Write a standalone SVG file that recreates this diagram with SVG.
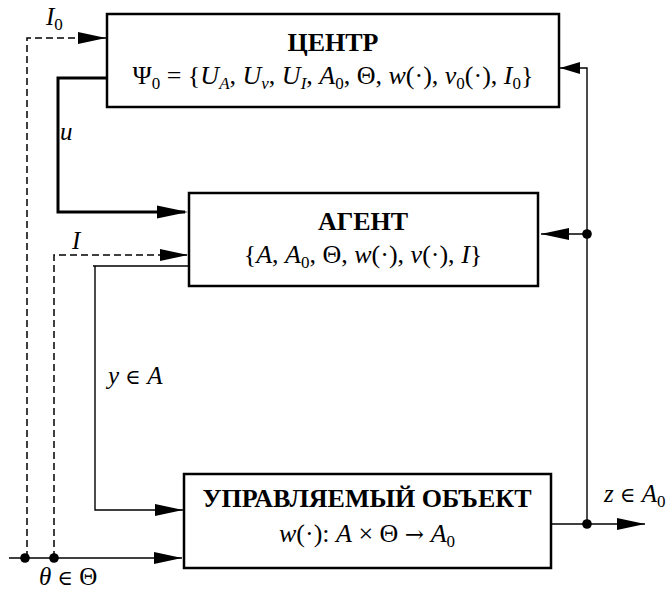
<svg xmlns="http://www.w3.org/2000/svg" width="669" height="591" viewBox="0 0 669 591">
<style>
text{font-family:"Liberation Serif","Times New Roman","DejaVu Serif",serif;fill:#000;font-size:26px}
.b{font-weight:bold}
.i{font-style:italic}
.sub{font-size:17px}
.lbl{font-size:25px}
.sym{font-family:"DejaVu Serif",serif;font-size:21px;font-style:normal}
.box{fill:#fff;stroke:#000;stroke-width:2.5}
.thin{fill:none;stroke:#000;stroke-width:1.4}
.dash{fill:none;stroke:#000;stroke-width:1.5;stroke-dasharray:7 4}
.thick{fill:none;stroke:#000;stroke-width:3}
.dot{fill:#000}
</style>
<defs>
<marker id="arr" markerUnits="userSpaceOnUse" markerWidth="28" markerHeight="12" refX="28" refY="6" orient="auto" overflow="visible"><path d="M0,0 L28,6 L0,12 z" fill="#000"/></marker>
<marker id="arrT" markerUnits="userSpaceOnUse" markerWidth="31" markerHeight="13" refX="28" refY="6.5" orient="auto" overflow="visible"><path d="M0,0 L31,6.5 L0,13 z" fill="#000"/></marker>
<marker id="arrS" markerUnits="userSpaceOnUse" markerWidth="20" markerHeight="12" refX="20" refY="6" orient="auto" overflow="visible"><path d="M0,0 L20,6 L0,12 z" fill="#000"/></marker>
</defs>
<rect width="669" height="591" fill="#fff"/>
<g id="connectors">
<path class="dash" d="M27,558 V38 H106" marker-end="url(#arr)"/>
<path class="dash" d="M54,558 V255 H188" marker-end="url(#arr)"/>
<path class="thick" d="M107,78 H58 V212 H185" marker-end="url(#arrT)"/>
<path class="thin" d="M189,266 H93 M95,266 V510 H183" marker-end="url(#arr)"/>
<path class="thin" d="M9,558 H182" marker-end="url(#arr)"/>
<path class="thin" d="M551,524 H645" marker-end="url(#arr)"/>
<path class="thin" d="M587,524 V68 H560" marker-end="url(#arrS)"/>
<path class="thin" d="M587,234 H541" marker-end="url(#arr)"/>
<circle class="dot" cx="25" cy="558" r="4.8"/>
<circle class="dot" cx="54" cy="558" r="4.8"/>
<circle class="dot" cx="587" cy="234" r="4.8"/>
<circle class="dot" cx="587" cy="524" r="4.8"/>
<text class="lbl i" x="46" y="25">I<tspan class="sub" style="font-style:normal" dy="5">0</tspan></text>
<text class="lbl i" x="60" y="140">u</text>
<text class="lbl i" x="72" y="249">I</text>
<text class="lbl" x="108" y="384"><tspan class="i">y</tspan> <tspan class="sym">∈</tspan> <tspan class="i">A</tspan></text>
<text class="lbl" x="39" y="585"><tspan class="i">θ</tspan> <tspan class="sym">∈</tspan> Θ</text>
<text class="lbl" x="604" y="502"><tspan class="i">z</tspan> <tspan class="sym">∈</tspan> <tspan class="i">A</tspan><tspan class="sub" dy="5">0</tspan></text>
</g>
<g id="center">
<rect class="box" x="107" y="14" width="452" height="93"/>
<text class="b" x="333" y="51" text-anchor="middle">ЦЕНТР</text>
<text x="333" y="84" text-anchor="middle">Ψ<tspan class="sub" dy="5">0</tspan><tspan dy="-5"> = {</tspan><tspan class="i">U</tspan><tspan class="sub i" dy="5">A</tspan><tspan dy="-5">, </tspan><tspan class="i">U</tspan><tspan class="sub i" dy="5">v</tspan><tspan dy="-5">, </tspan><tspan class="i">U</tspan><tspan class="sub i" dy="5">I</tspan><tspan dy="-5">, </tspan><tspan class="i">A</tspan><tspan class="sub" dy="5">0</tspan><tspan dy="-5">, Θ, </tspan><tspan class="i">w</tspan>(·), <tspan class="i">v</tspan><tspan class="sub" dy="5">0</tspan><tspan dy="-5">(·), </tspan><tspan class="i">I</tspan><tspan class="sub" dy="5">0</tspan><tspan dy="-5">}</tspan></text>
</g>
<g id="agent">
<rect class="box" x="189" y="193" width="349" height="93"/>
<text class="b" x="363" y="230" text-anchor="middle">АГЕНТ</text>
<text x="363" y="263" text-anchor="middle">{<tspan class="i">A</tspan>, <tspan class="i">A</tspan><tspan class="sub" dy="5">0</tspan><tspan dy="-5">, Θ, </tspan><tspan class="i">w</tspan>(·), <tspan class="i">v</tspan>(·), <tspan class="i">I</tspan>}</text>
</g>
<g id="object">
<rect class="box" x="184" y="474" width="367" height="94"/>
<text class="b" x="367" y="507" text-anchor="middle">УПРАВЛЯЕМЫЙ ОБЪЕКТ</text>
<text x="367" y="542" text-anchor="middle"><tspan class="i">w</tspan>(·): <tspan class="i">A</tspan> × Θ <tspan class="sym" style="font-size:23px">→</tspan> <tspan class="i">A</tspan><tspan class="sub" dy="5">0</tspan></text>
</g>
</svg>
